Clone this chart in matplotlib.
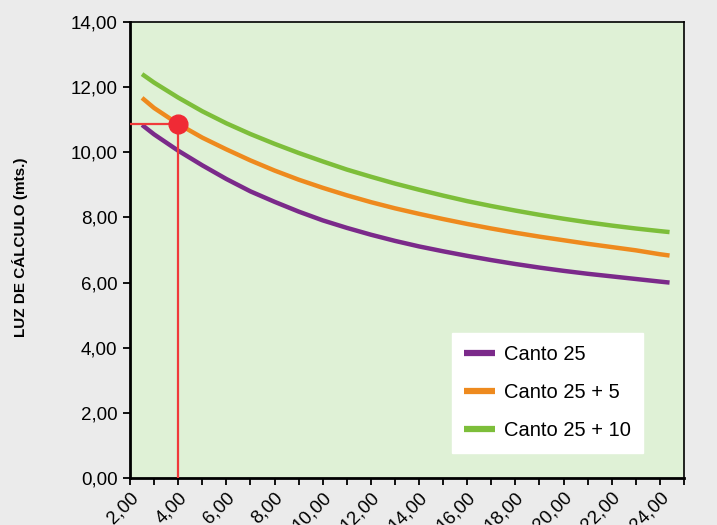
import matplotlib
matplotlib.use("Agg")
import matplotlib.pyplot as plt
from matplotlib.ticker import FixedLocator, FuncFormatter

plt.rcParams['font.family'] = ['Liberation Sans', 'DejaVu Sans']

x = [2.5, 3, 4, 5, 6, 7, 8, 9, 10, 11, 12, 13, 14, 15, 16, 17, 18, 19, 20, 21, 22, 23, 24, 24.4]
canto25 = [10.84, 10.55, 10.05, 9.60, 9.18, 8.80, 8.48, 8.18, 7.91, 7.68, 7.47, 7.28, 7.11,
           6.96, 6.82, 6.69, 6.57, 6.46, 6.36, 6.27, 6.19, 6.11, 6.03, 6.00]
canto25_5 = [11.67, 11.36, 10.87, 10.45, 10.09, 9.75, 9.44, 9.16, 8.91, 8.68, 8.47, 8.28, 8.11,
             7.95, 7.80, 7.66, 7.53, 7.41, 7.30, 7.19, 7.09, 6.99, 6.87, 6.83]
canto25_10 = [12.40, 12.14, 11.68, 11.26, 10.89, 10.56, 10.26, 9.98, 9.72, 9.47, 9.25, 9.04, 8.85,
              8.67, 8.50, 8.35, 8.21, 8.08, 7.96, 7.85, 7.75, 7.66, 7.58, 7.55]
labels = ["Canto 25", "Canto 25 + 5", "Canto 25 + 10"]
colors = ["#7B2A8A", "#EE8A1E", "#7DBE3A"]

point_x = 4.0
point_y = 10.87

xticks = [2, 4, 6, 8, 10, 12, 14, 16, 18, 20, 22, 24]
yticks = [0, 2, 4, 6, 8, 10, 12, 14]

fig = plt.figure(figsize=(7.17, 5.25), dpi=100)
fig.patch.set_facecolor("#EBEBEB")
ax = fig.add_axes([130/717, 1-478/525, 554/717, 456/525])
ax.set_facecolor("#DFF1D6")

for ys, lab, c in zip([canto25, canto25_5, canto25_10], labels, colors):
    ax.plot(x, ys, color=c, lw=3.2, label=lab, solid_capstyle='butt', solid_joinstyle='round')

ax.plot([2, point_x], [point_y, point_y], color="#F03A3A", lw=1.6, zorder=4)
ax.plot([point_x, point_x], [0, point_y], color="#F03A3A", lw=1.6, zorder=4)
ax.plot([point_x], [point_y], 'o', color="#F02A35", ms=13.5, zorder=5)

ax.set_xlim(2, 25)
ax.set_ylim(0, 14)
ax.xaxis.set_major_locator(FixedLocator(xticks))
ax.xaxis.set_minor_locator(FixedLocator([v for v in range(3, 26, 2)]))
ax.yaxis.set_major_locator(FixedLocator(yticks))
fmt = FuncFormatter(lambda v, p: f"{v:.2f}".replace(".", ","))
ax.xaxis.set_major_formatter(fmt)
ax.yaxis.set_major_formatter(fmt)

ax.tick_params(axis='both', which='both', direction='out', length=5, width=1.3, labelsize=13.5, colors='black')
ax.tick_params(axis='y', pad=4)
ax.tick_params(axis='x', pad=3)
for lbl in ax.get_xticklabels():
    lbl.set_rotation(45)
    lbl.set_ha('right')
    lbl.set_va('top')
    lbl.set_rotation_mode('anchor')

for s in ['left', 'bottom']:
    ax.spines[s].set_linewidth(2)
for s in ['top', 'right']:
    ax.spines[s].set_linewidth(1.2)

fig.text(20/717, 1-247/525, "LUZ DE CÁLCULO (mts.)", rotation=90, ha='center', va='center',
         fontsize=11, fontweight='bold')

leg = ax.legend(loc='lower right', bbox_to_anchor=(0.926, 0.055), frameon=True, fancybox=False,
                fontsize=14.5, labelspacing=0.95, handlelength=1.5, handletextpad=0.45,
                borderpad=0.62, borderaxespad=0)
leg.get_frame().set_facecolor('white')
leg.get_frame().set_edgecolor('white')
leg.get_frame().set_alpha(1)
for h in leg.get_lines():
    h.set_linewidth(4.5)

fig.savefig("out.png", dpi=100, facecolor=fig.get_facecolor())
